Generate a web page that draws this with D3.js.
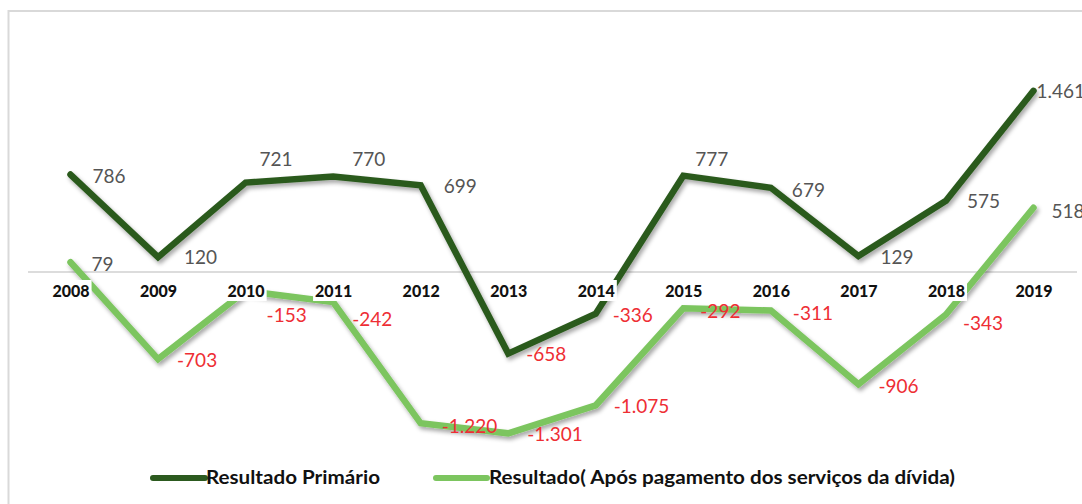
<!DOCTYPE html>
<html>
<head>
<meta charset="utf-8">
<script src="https://cdn.jsdelivr.net/npm/d3@7"></script>
<style>
  html, body { margin: 0; padding: 0; background: #fff; }
  svg { display: block; }
</style>
</head>
<body>
<svg id="chart" width="1082" height="504"></svg>
<script>
// ---- data ----
const years = ["2008","2009","2010","2011","2012","2013","2014","2015","2016","2017","2018","2019"];
const primario = [786, 120, 721, 770, 699, -658, -336, 777, 679, 129, 575, 1461];
const aposDivida = [79, -703, -153, -242, -1220, -1301, -1075, -292, -311, -906, -343, 518];
const seriesNames = ["Resultado Primário", "Resultado( Após pagamento dos serviços da dívida)"];

// ---- label placement (layout, not data) ----
const offPrimario = [[22,2],[26,0],[14,-23],[19,-17],[23,1],[18,1],[17,1],[12,-16],[21,2],[22,1],[21,0],[3,0]];
const offApos = [[21,2],[19,1],[21,24],[19,17],[21,3],[19,1],[18,1],[17,3],[22,3],[20,2],[17,9],[18,3]];

const svg = d3.select("#chart");

const fmt = d3.formatLocale({decimal: ",", thousands: ".", grouping: [3], currency: ["", ""], minus: "-"}).format(",d");

const x = d3.scalePoint().domain(years).range([70.5, 1033.5]);
const y = d3.scaleLinear().domain([-1500, 1500]).range([458, 86]);

// shadow filter
const defs = svg.append("defs");
const f = defs.append("filter").attr("id", "shadow").attr("x", "-10%").attr("y", "-10%").attr("width", "120%").attr("height", "130%");
f.append("feDropShadow").attr("dx", 2).attr("dy", 3).attr("stdDeviation", 2)
  .attr("flood-color", "#000").attr("flood-opacity", 0.35);

// border
svg.append("rect").attr("x", 8.5).attr("y", 11).attr("width", 1200).attr("height", 700)
  .attr("fill", "#fff").attr("stroke", "#d9d9d9").attr("stroke-width", 2);

// zero line
svg.append("line").attr("x1", 28).attr("x2", 1077).attr("y1", y(0)).attr("y2", y(0))
  .attr("stroke", "#d0d0d0").attr("stroke-width", 1.5);

const colors = ["#2c5a1f", "#7cc55f"];
const line = d3.line().x((d, i) => x(years[i])).y(d => y(d));

[aposDivida, primario].forEach((vals, k) => {
  const c = k === 0 ? colors[1] : colors[0];
  svg.append("path").datum(vals).attr("d", line)
    .attr("fill", "none").attr("stroke", c).attr("stroke-width", 6.5)
    .attr("stroke-linejoin", "miter").attr("stroke-linecap", "round")
    .attr("filter", "url(#shadow)");
});

// x axis labels with white boxes
const xAxis = d3.axisBottom(x).tickSize(0).tickPadding(0);
const gx = svg.append("g").attr("transform", `translate(0,${y(0)})`).call(xAxis);
gx.select(".domain").remove();
gx.selectAll(".tick text")
  .attr("y", 25).attr("dy", null)
  .attr("font-family", "Lato, 'Open Sans', sans-serif")
  .attr("font-weight", 900).attr("font-size", 16).attr("fill", "#111");
gx.selectAll(".tick").each(function() {
  const t = d3.select(this).select("text");
  const bb = t.node().getBBox();
  d3.select(this).insert("rect", "text")
    .attr("x", bb.x - 2).attr("y", bb.y - 1).attr("width", bb.width + 4).attr("height", bb.height + 2)
    .attr("fill", "#fff");
});

// data labels
function labels(vals, offs) {
  svg.append("g").selectAll("text").data(vals).join("text")
    .attr("x", (d, i) => x(years[i]) + offs[i][0])
    .attr("y", (d, i) => y(d) + offs[i][1])
    .attr("dy", "0.36em")
    .attr("font-family", "Lato, 'Open Sans', sans-serif")
    .attr("font-size", 19)
    .attr("fill", d => d < 0 ? "#ee2e34" : "#555")
    .text(d => fmt(d));
}
labels(primario, offPrimario);
labels(aposDivida, offApos);

// legend
const leg = [
  {name: seriesNames[0], color: colors[0], x0: 153, x1: 205, tx: 206, tl: 174},
  {name: seriesNames[1], color: colors[1], x0: 436, x1: 487, tx: 489, tl: 466}
];
const lg = svg.append("g");
leg.forEach(l => {
  lg.append("line").attr("x1", l.x0).attr("x2", l.x1).attr("y1", 478).attr("y2", 478)
    .attr("stroke", l.color).attr("stroke-width", 6).attr("stroke-linecap", "round");
  lg.append("text").attr("x", l.tx).attr("y", 478).attr("dy", "0.36em")
    .attr("font-family", "Lato, 'Open Sans', sans-serif").attr("font-weight", "bold")
    .attr("font-size", 18).attr("fill", "#111")
    .attr("textLength", l.tl).attr("lengthAdjust", "spacingAndGlyphs")
    .text(l.name);
});
</script>
</body>
</html>
